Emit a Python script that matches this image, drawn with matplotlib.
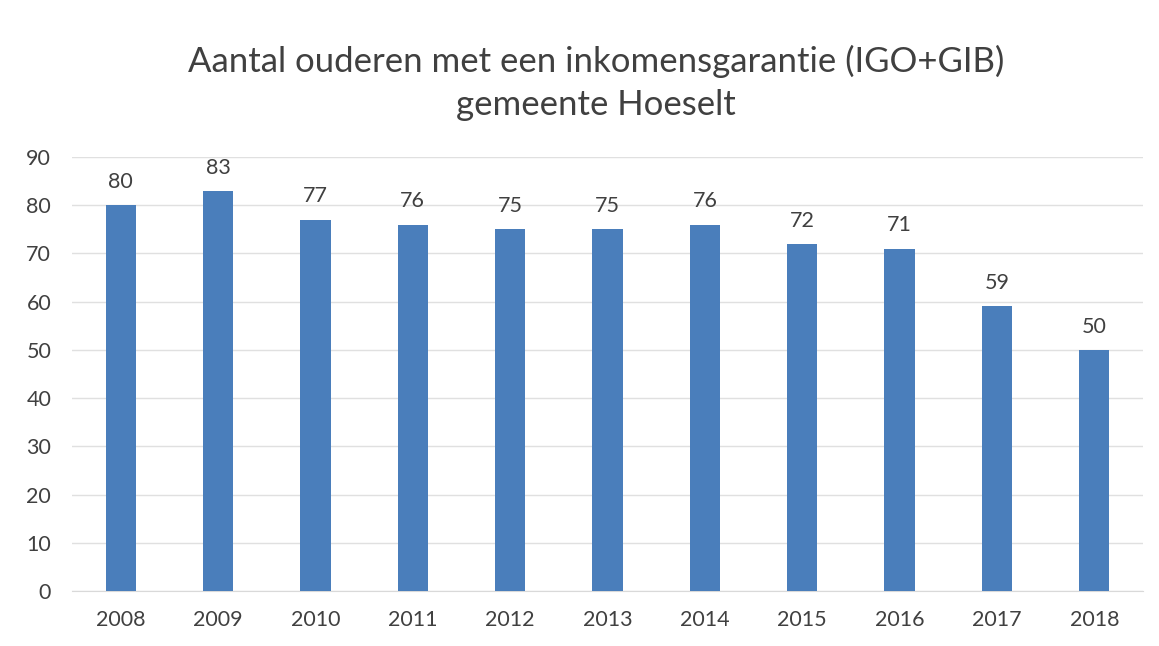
import matplotlib
matplotlib.use("Agg")
import matplotlib.pyplot as plt

years = ["2008", "2009", "2010", "2011", "2012", "2013", "2014", "2015", "2016", "2017", "2018"]
values = [80, 83, 77, 76, 75, 75, 76, 72, 71, 59, 50]
yticks = [0, 10, 20, 30, 40, 50, 60, 70, 80, 90]

plt.rcParams['font.family'] = ['Lato', 'DejaVu Sans']
txt = '#404040'

fig = plt.figure(figsize=(11.59, 6.46), dpi=100)
ax = fig.add_axes([72/1159, 55/646, (1143-72)/1159, (591-157)/646])

x = list(range(len(years)))
bars = ax.bar(x, values, width=0.31, color='#4a7ebb', zorder=3)
for xi, v in zip(x, values):
    ax.annotate(str(v), (xi, v), xytext=(0, 9.5), textcoords='offset points',
                ha='center', va='bottom', fontsize=15.5, color=txt)

ax.set_xlim(-0.5, len(years) - 0.5)
ax.set_ylim(0, 90)
ax.set_yticks(yticks)
ax.set_xticks(x)
ax.set_xticklabels(years)
ax.yaxis.grid(True, color='#e0e0e0', linewidth=1, zorder=0)
for s in ['top', 'right', 'left']:
    ax.spines[s].set_visible(False)
ax.spines['bottom'].set_color('#d9d9d9')
ax.tick_params(axis='both', length=0, labelsize=15.5, colors=txt)
ax.tick_params(axis='y', pad=15)
ax.tick_params(axis='x', pad=14)

fig.text(596/1159, 1 - 83/646, "Aantal ouderen met een inkomensgarantie (IGO+GIB)\ngemeente Hoeselt",
         ha='center', va='center', fontsize=25, color=txt, linespacing=1.42)

fig.savefig('out.png', dpi=100)
